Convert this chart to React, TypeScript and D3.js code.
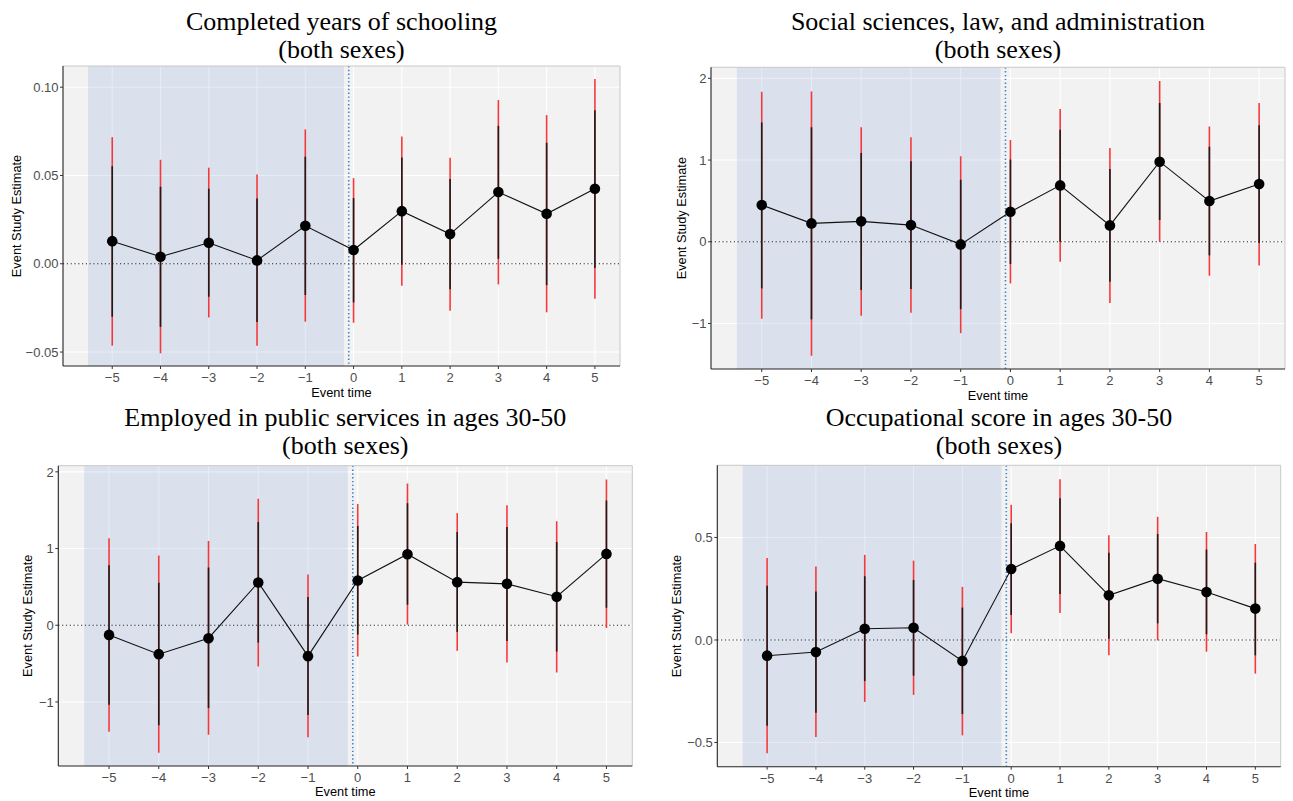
import React from 'react';
import * as d3 from 'd3';

// ---------- data ----------
const eventTime = [-5, -4, -3, -2, -1, 0, 1, 2, 3, 4, 5];

const schoolingEst = [0.0128, 0.004, 0.0119, 0.0019, 0.0215, 0.0078, 0.0298, 0.0168, 0.0406, 0.0283, 0.0425];
const schoolingHi95 = [0.0717, 0.0589, 0.0544, 0.0506, 0.0761, 0.0485, 0.0721, 0.06, 0.0927, 0.0842, 0.1046];
const schoolingHi90 = [0.0553, 0.0436, 0.0425, 0.037, 0.0606, 0.0372, 0.0602, 0.048, 0.0781, 0.0685, 0.087];
const schoolingLo90 = [-0.03, -0.0357, -0.0187, -0.033, -0.0177, -0.0219, -0.0006, -0.0145, 0.0028, -0.0121, -0.0024];
const schoolingLo95 = [-0.0464, -0.0507, -0.0304, -0.0464, -0.0328, -0.0334, -0.0125, -0.0266, -0.0117, -0.0275, -0.0198];

const socialEst = [0.449, 0.225, 0.25, 0.204, -0.032, 0.367, 0.69, 0.2, 0.98, 0.498, 0.706];
const socialHi95 = [1.836, 1.84, 1.4, 1.278, 1.045, 1.245, 1.624, 1.147, 1.967, 1.412, 1.698];
const socialHi90 = [1.461, 1.4, 1.086, 0.984, 0.759, 1.008, 1.371, 0.89, 1.698, 1.163, 1.425];
const socialLo90 = [-0.571, -0.95, -0.59, -0.579, -0.824, -0.273, 0.0, -0.49, 0.266, -0.167, -0.016];
const socialLo95 = [-0.942, -1.395, -0.905, -0.869, -1.118, -0.51, -0.245, -0.75, 0.0, -0.416, -0.289];

const publicEst = [-0.126, -0.377, -0.169, 0.558, -0.403, 0.584, 0.926, 0.562, 0.54, 0.372, 0.93];
const publicHi95 = [1.134, 0.909, 1.099, 1.649, 0.662, 1.58, 1.848, 1.462, 1.566, 1.355, 1.9];
const publicHi90 = [0.783, 0.553, 0.753, 1.345, 0.368, 1.294, 1.592, 1.216, 1.281, 1.086, 1.627];
const publicLo90 = [-1.035, -1.304, -1.078, -0.226, -1.169, -0.122, 0.268, -0.087, -0.204, -0.343, 0.229];
const publicLo95 = [-1.39, -1.662, -1.429, -0.538, -1.46, -0.408, 0.008, -0.334, -0.486, -0.615, -0.035];

const occupEst = [-0.0765, -0.0585, 0.055, 0.06, -0.102, 0.346, 0.459, 0.218, 0.299, 0.234, 0.153];
const occupHi95 = [0.4, 0.358, 0.415, 0.387, 0.259, 0.659, 0.784, 0.511, 0.601, 0.527, 0.468];
const occupHi90 = [0.265, 0.237, 0.311, 0.293, 0.158, 0.569, 0.691, 0.426, 0.517, 0.441, 0.377];
const occupLo90 = [-0.418, -0.355, -0.2, -0.174, -0.361, 0.122, 0.224, 0.006, 0.081, 0.028, -0.075];
const occupLo95 = [-0.553, -0.473, -0.302, -0.268, -0.465, 0.033, 0.132, -0.075, -0.002, -0.057, -0.164];

const xTicks = [-5, -4, -3, -2, -1, 0, 1, 2, 3, 4, 5];
const xDomain: [number, number] = [-6.02, 5.52];
const shadeRange: [number, number] = [-5.5, -0.2];
const treatLine = -0.1;

const titles = [
  ['Completed years of schooling', '(both sexes)'],
  ['Social sciences, law, and administration', '(both sexes)'],
  ['Employed in public services in ages 30-50', '(both sexes)'],
  ['Occupational score in ages 30-50', '(both sexes)'],
];
const yTicksList = [
  [-0.05, 0, 0.05, 0.1],
  [-1, 0, 1, 2],
  [-1, 0, 1, 2],
  [-0.5, 0, 0.5],
];
const yFormats = ['.2f', 'd', 'd', '.1f'];
const yDomains: [number, number][] = [
  [-0.0579, 0.112],
  [-1.557, 2.135],
  [-1.835, 2.08],
  [-0.618, 0.852],
];

const seriesList = [
  { est: schoolingEst, hi95: schoolingHi95, hi90: schoolingHi90, lo90: schoolingLo90, lo95: schoolingLo95 },
  { est: socialEst, hi95: socialHi95, hi90: socialHi90, lo90: socialLo90, lo95: socialLo95 },
  { est: publicEst, hi95: publicHi95, hi90: publicHi90, lo90: publicLo90, lo95: publicLo95 },
  { est: occupEst, hi95: occupHi95, hi90: occupHi90, lo90: occupLo90, lo95: occupLo95 },
];

// ---------- layout ----------
const layouts = [
  { left: 63, right: 620, top: 66, bottom: 366, ylabX: 16.5, t1: 30, t2: 57.5, xlab: 396.5 },
  { left: 711, right: 1285, top: 67.3, bottom: 369, ylabX: 682, t1: 30, t2: 57.5, xlab: 399.5 },
  { left: 58.3, right: 632.3, top: 465.7, bottom: 766, ylabX: 28, t1: 425.5, t2: 454, xlab: 796 },
  { left: 717.3, right: 1280.7, top: 465.3, bottom: 766.7, ylabX: 677, t1: 425.5, t2: 454, xlab: 796.5 },
];

const SANS = '"Liberation Sans", Arial, sans-serif';
const SERIF = '"Liberation Serif", "Times New Roman", serif';

function Panel({ idx }: { idx: number }) {
  const L = layouts[idx];
  const s = seriesList[idx];
  const x = d3.scaleLinear().domain(xDomain).range([L.left, L.right]);
  const y = d3.scaleLinear().domain(yDomains[idx]).range([L.bottom, L.top]);
  const fmt = d3.format(yFormats[idx]);
  const yTicks = yTicksList[idx];
  const line = d3
    .line<number>()
    .x((_, i) => x(eventTime[i]))
    .y((d) => y(d));
  const cx = (L.left + L.right) / 2;
  const cy = (L.top + L.bottom) / 2;
  const clipId = `clip${idx}`;
  return (
    <g>
      <defs>
        <clipPath id={clipId}>
          <rect x={L.left} y={L.top} width={L.right - L.left} height={L.bottom - L.top} />
        </clipPath>
      </defs>
      <rect x={L.left} y={L.top} width={L.right - L.left} height={L.bottom - L.top} fill="#f2f2f2" />
      <g clipPath={`url(#${clipId})`}>
        {xTicks.map((t) => (
          <line key={'gx' + t} x1={x(t)} x2={x(t)} y1={L.top} y2={L.bottom} stroke="#ffffff" strokeWidth={1.1} />
        ))}
        {yTicks.map((t) => (
          <line key={'gy' + t} x1={L.left} x2={L.right} y1={y(t)} y2={y(t)} stroke="#ffffff" strokeWidth={1.1} />
        ))}
        <rect
          x={x(shadeRange[0])}
          y={L.top}
          width={x(shadeRange[1]) - x(shadeRange[0])}
          height={L.bottom - L.top}
          fill="rgb(82,122,202)"
          fillOpacity={0.15}
        />
        <line x1={L.left} x2={L.right} y1={y(0)} y2={y(0)} stroke="#222" strokeWidth={1} strokeDasharray="1.2,2.6" />
        <line
          x1={x(treatLine)}
          x2={x(treatLine)}
          y1={L.top}
          y2={L.bottom}
          stroke="#3a86d0"
          strokeWidth={1.6}
          strokeDasharray="1.4,2.4"
        />
        {eventTime.map((t, i) => (
          <line key={'r' + t} x1={x(t)} x2={x(t)} y1={y(s.lo95[i])} y2={y(s.hi95[i])} stroke="#f5393b" strokeWidth={1.6} />
        ))}
        {eventTime.map((t, i) => (
          <line key={'b' + t} x1={x(t)} x2={x(t)} y1={y(s.lo90[i])} y2={y(s.hi90[i])} stroke="#1c1c1c" strokeWidth={1.6} />
        ))}
        <path d={line(s.est) || ''} fill="none" stroke="#111" strokeWidth={1.1} />
        {eventTime.map((t, i) => (
          <circle key={'p' + t} cx={x(t)} cy={y(s.est[i])} r={5.3} fill="#000" />
        ))}
      </g>
      {/* border */}
      <line x1={L.left} x2={L.right} y1={L.top} y2={L.top} stroke="#c8c8c8" strokeWidth={1} />
      <line x1={L.right} x2={L.right} y1={L.top} y2={L.bottom} stroke="#c8c8c8" strokeWidth={1} />
      <line x1={L.left} x2={L.left} y1={L.top} y2={L.bottom} stroke="#222" strokeWidth={1.1} />
      <line x1={L.left} x2={L.right} y1={L.bottom} y2={L.bottom} stroke="#222" strokeWidth={1.1} />
      {/* x ticks */}
      {xTicks.map((t) => (
        <g key={'xt' + t}>
          <line x1={x(t)} x2={x(t)} y1={L.bottom} y2={L.bottom + 3} stroke="#333" strokeWidth={1} />
          <text x={x(t)} y={L.bottom + 16} textAnchor="middle" fontFamily={SANS} fontSize={13} fill="#4d4d4d">
            {d3.format('d')(t)}
          </text>
        </g>
      ))}
      {/* y ticks */}
      {yTicks.map((t) => (
        <g key={'yt' + t}>
          <line x1={L.left - 3} x2={L.left} y1={y(t)} y2={y(t)} stroke="#333" strokeWidth={1} />
          <text x={L.left - 4.5} y={y(t)} dy="0.36em" textAnchor="end" fontFamily={SANS} fontSize={13} fill="#4d4d4d">
            {fmt(t)}
          </text>
        </g>
      ))}
      <text x={cx} y={L.xlab} textAnchor="middle" fontFamily={SANS} fontSize={12.8} fill="#000">
        Event time
      </text>
      <text
        transform={`translate(${L.ylabX},${cy}) rotate(-90)`}
        dy="0.35em"
        textAnchor="middle"
        fontFamily={SANS}
        fontSize={12.8}
        fill="#000"
      >
        Event Study Estimate
      </text>
      <text x={cx} y={L.t1} textAnchor="middle" fontFamily={SERIF} fontSize={26} fill="#000">
        {titles[idx][0]}
      </text>
      <text x={cx} y={L.t2} textAnchor="middle" fontFamily={SERIF} fontSize={26} fill="#000">
        {titles[idx][1]}
      </text>
    </g>
  );
}

export default function App() {
  return (
    <svg
      width={1293}
      height={801}
      viewBox="0 0 1293 801"
      style={{ position: 'absolute', left: 0, top: 0, background: '#fff' }}
    >
      <rect x={0} y={0} width={1293} height={801} fill="#fff" />
      {[0, 1, 2, 3].map((i) => (
        <Panel key={i} idx={i} />
      ))}
    </svg>
  );
}
